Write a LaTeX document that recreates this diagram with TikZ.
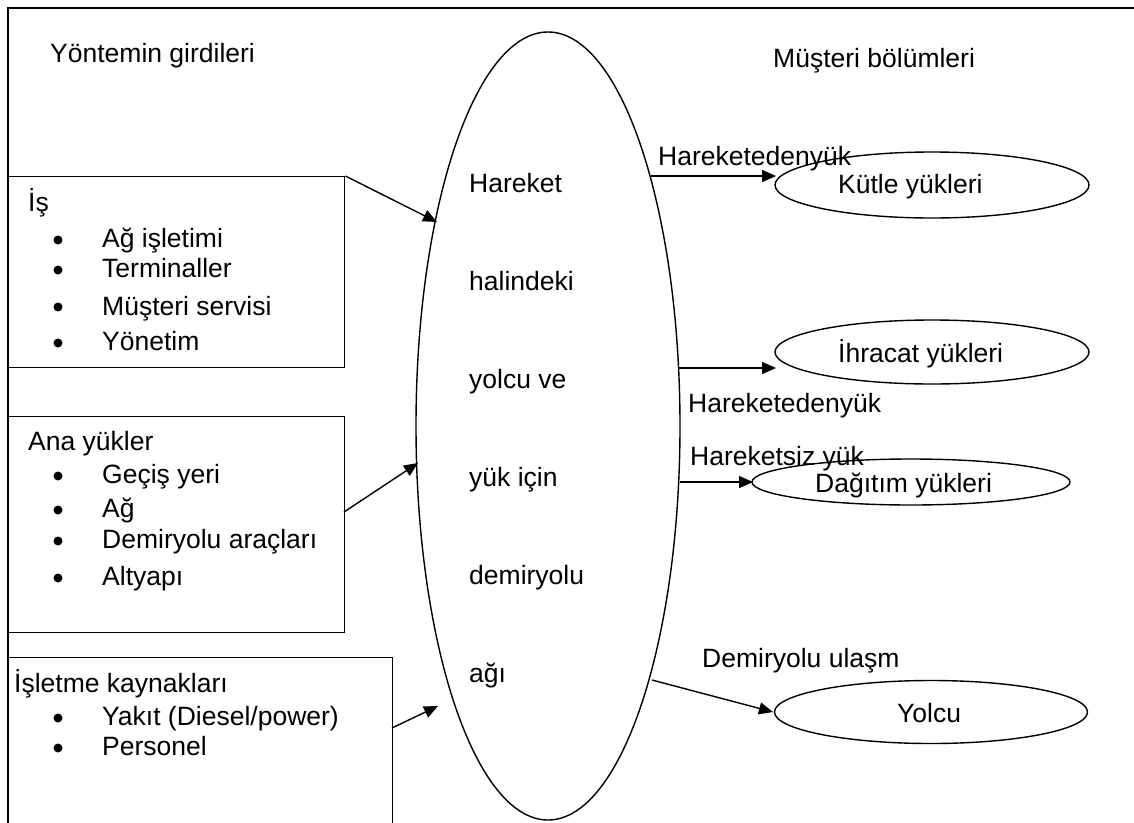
\documentclass[tikz,border=0pt]{standalone}
\usepackage{fontspec}
\setmainfont{Liberation Sans}
\usetikzlibrary{arrows.meta,shapes.geometric}
\begin{document}
\begin{tikzpicture}[x=1pt,y=-1pt,
  lw/.style={line width=1.4pt},
  arr/.style={lw,-{Triangle[length=14pt,width=12pt]}},
  txt/.style={anchor=base west,inner sep=0pt,font=\fontsize{26.5}{30}\selectfont},
  bul/.style={circle,fill,inner sep=0pt,minimum size=9pt},
  box/.style={draw,lw,anchor=north west,inner sep=0pt},
  ell/.style={draw,lw,ellipse,inner sep=0pt}]
\useasboundingbox (0,0) rectangle (1134,822);
% frame
\draw[lw] (8,840) -- (8,8) -- (1150,8);
% titles
\node[txt] (tin) at (50,62) {Yöntemin girdileri};
\node[txt] (tout) at (773,67) {Müşteri bölümleri};
% input boxes
\node[box,minimum width=336pt,minimum height=191pt] (b1) at (8,176) {};
\node[box,minimum width=336pt,minimum height=216pt] (b2) at (8,416) {};
\node[box,minimum width=384pt,minimum height=200pt] (b3) at (8,657) {};
% box 1 text
\node[txt] (b1h) at (28,211) {İş};
\node[txt] (b1a) at (102,247) {Ağ işletimi};
\node[txt] (b1b) at (102,277) {Terminaller};
\node[txt] (b1c) at (102,315) {Müşteri servisi};
\node[txt] (b1d) at (102,350) {Yönetim};
\node[bul] (u1a) at (58,240) {};
\node[bul] (u1b) at (58,270) {};
\node[bul] (u1c) at (58,307) {};
\node[bul] (u1d) at (58,343) {};
% box 2 text
\node[txt] (b2h) at (28,450) {Ana yükler};
\node[txt] (b2a) at (102,483) {Geçiş yeri};
\node[txt] (b2b) at (102,517) {Ağ};
\node[txt] (b2c) at (102,548) {Demiryolu araçları};
\node[txt] (b2d) at (102,585) {Altyapı};
\node[bul] (u2a) at (58,476) {};
\node[bul] (u2b) at (58,510) {};
\node[bul] (u2c) at (58,541) {};
\node[bul] (u2d) at (58,578) {};
% box 3 text
\node[txt] (b3h) at (14,692) {İşletme kaynakları};
\node[txt] (b3a) at (102,725) {Yakıt (Diesel/power)};
\node[txt] (b3b) at (102,755) {Personel};
\node[bul] (u3a) at (58,718) {};
\node[bul] (u3b) at (58,748) {};
% central ellipse
\node[ell,minimum width=264pt,minimum height=788pt] (net) at (548,426) {};
\node[txt] (n1) at (469,192) {Hareket};
\node[txt] (n2) at (469,290) {halindeki};
\node[txt] (n3) at (469,388) {yolcu ve};
\node[txt] (n4) at (469,486) {yük için};
\node[txt] (n5) at (469,584) {demiryolu};
\node[txt] (n6) at (469,682) {ağı};
% customer ellipses
\node[ell,minimum width=314pt,minimum height=66pt] (kut) at (932,185) {};
\node[txt] (kutt) at (838,193) {Kütle yükleri};
\node[ell,minimum width=314pt,minimum height=64pt] (ihr) at (932,352) {};
\node[txt] (ihrt) at (838,362) {İhracat yükleri};
\node[ell,minimum width=318pt,minimum height=46pt] (dag) at (911,482) {};
\node[txt] (dagt) at (815,492) {Dağıtım yükleri};
\node[ell,minimum width=313pt,minimum height=63pt] (yol) at (931,712) {};
\node[txt] (yolt) at (897,722) {Yolcu};
% labels of right arrows
\node[txt] (l1) at (658,165) {Hareketedenyük};
\node[txt] (l2) at (688,412) {Hareketedenyük};
\node[txt] (l3) at (690,465) {Hareketsiz yük};
\node[txt] (l4) at (702,667) {Demiryolu ulaşm};
% arrow end points
\coordinate (a1e) at (437,222);
\coordinate (a2s) at (344,512);
\coordinate (a2e) at (418,463);
\coordinate (a3s) at (392,728);
\coordinate (a3e) at (438,706);
\coordinate (r1s) at (651,176);
\coordinate (r1e) at (776,176);
\coordinate (r2s) at (679,368);
\coordinate (r2e) at (776,368);
\coordinate (r3s) at (680,482);
\coordinate (r3e) at (753,482);
\coordinate (r4s) at (652,680);
\coordinate (r4e) at (773,712);
% arrows
\draw[arr] (b1.north east) -- (a1e);
\draw[arr] (a2s) -- (a2e);
\draw[arr] (a3s) -- (a3e);
\draw[arr] (r1s) -- (r1e);
\draw[arr] (r2s) -- (r2e);
\draw[arr] (r3s) -- (r3e);
\draw[arr] (r4s) -- (r4e);
\end{tikzpicture}
\end{document}
